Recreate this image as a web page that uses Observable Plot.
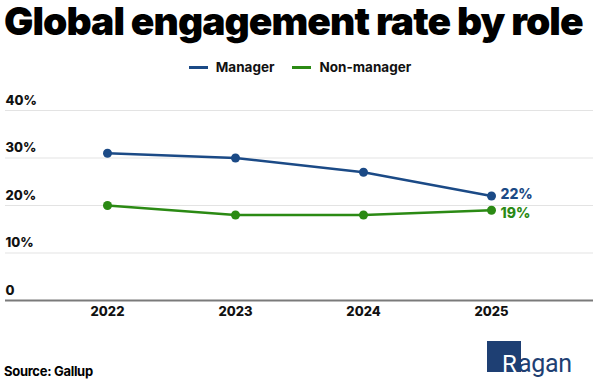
<!DOCTYPE html>
<html>
<head>
<meta charset="utf-8">
<script src="https://cdn.jsdelivr.net/npm/d3@7"></script>
<script src="https://cdn.jsdelivr.net/npm/@observablehq/plot@0.6"></script>
<style>
  html, body { margin: 0; padding: 0; background: #fff; }
  body { width: 600px; height: 388px; position: relative; overflow: hidden; font-family: Inter, "Liberation Sans", sans-serif; }
  #title { position: absolute; left: 4px; top: 0px; font-size: 39px; line-height: 42px; padding-top: 0; font-weight: 900; letter-spacing: -0.95px; color: #000; white-space: nowrap; }
  #legend { position: absolute; top: 59px; left: 0; width: 600px; display: flex; justify-content: center; gap: 18px; font-size: 13.5px; font-weight: 700; color: #111; }
  #legend span.item { display: flex; align-items: center; gap: 8px; }
  #legend span.sw { display: inline-block; width: 19px; height: 3px; }
  #chart { position: absolute; left: 0; top: 85px; }
  #source { position: absolute; left: 4px; top: 363px; font-size: 13px; font-weight: 700; color: #000; letter-spacing: -0.3px; }
  #logo { position: absolute; left: 487px; top: 340px; width: 112px; height: 44px; overflow: visible; }
</style>
</head>
<body>
<div id="title">Global engagement rate by role</div>
<div id="legend"></div>
<div id="chart"></div>
<div id="source">Source: Gallup</div>
<svg id="logo" width="112" height="44" viewBox="0 0 112 44">
  <rect x="0" y="1" width="34" height="31" fill="#1e3f73"></rect>
  <text x="15" y="32" font-family="Roboto, 'Liberation Sans', sans-serif" font-size="24" fill="#ffffff" font-weight="400">R</text>
  <text x="31" y="32" font-family="Roboto, 'Liberation Sans', sans-serif" font-size="25" fill="#1e3f73" font-weight="400" letter-spacing="-0.3">agan</text>
</svg>
<script>
const years = ["2022", "2023", "2024", "2025"];
const managerValues = [31, 30, 27, 22];
const nonManagerValues = [20, 18, 18, 19];
const seriesNames = ["Manager", "Non-manager"];
const seriesColors = ["#1b4a86", "#2b8a14"];
const yTicks = [0, 10, 20, 30, 40];
const yTickLabels = ["0", "10%", "20%", "30%", "40%"];

const data = [];
years.forEach((y, i) => data.push({year: y, value: managerValues[i], series: seriesNames[0]}));
years.forEach((y, i) => data.push({year: y, value: nonManagerValues[i], series: seriesNames[1]}));
const lastManager = data.filter(d => d.year === years[years.length - 1] && d.series === seriesNames[0]);
const lastNon = data.filter(d => d.year === years[years.length - 1] && d.series === seriesNames[1]);

// legend
const legend = document.getElementById("legend");
seriesNames.forEach((n, i) => {
  const it = document.createElement("span");
  it.className = "item";
  it.innerHTML = `<span class="sw" style="background:${seriesColors[i]}"></span><span>${n}</span>`;
  legend.appendChild(it);
});

const chart = Plot.plot({
  width: 600,
  height: 245,
  marginTop: 25,
  marginBottom: 30,
  marginLeft: 5,
  marginRight: 7,
  style: {fontFamily: "Inter, 'Liberation Sans', sans-serif", background: "#fff"},
  x: {type: "point", domain: years, padding: 0.785, axis: null},
  y: {domain: [0, 40], axis: null},
  color: {domain: seriesNames, range: seriesColors},
  marks: [
    Plot.ruleY(yTicks.filter(t => t > 0), {stroke: "#e3e3e3", strokeWidth: 1.2}),
    Plot.text(yTicks, {y: d => d, text: (d, i) => yTickLabels[i], frameAnchor: "left", textAnchor: "start", dy: -10, fontSize: 13, fontWeight: 800, fill: "#111"}),
    Plot.ruleY([0], {stroke: "#7a7a7a", strokeWidth: 2}),
    Plot.text(years, {x: d => d, text: d => d, frameAnchor: "bottom", dy: 15, fontSize: 13, fontWeight: 800, fill: "#111"}),
    Plot.line(data, {x: "year", y: "value", stroke: "series", z: "series", strokeWidth: 2.5}),
    Plot.dot(data, {x: "year", y: "value", fill: "series", r: 4.5}),
    Plot.text(lastManager, {x: "year", y: "value", text: d => d.value + "%", fill: "series", textAnchor: "start", dx: 9, dy: -1, fontSize: 14, fontWeight: 800}),
    Plot.text(lastNon, {x: "year", y: "value", text: d => d.value + "%", fill: "series", textAnchor: "start", dx: 9, dy: 3, fontSize: 14, fontWeight: 800})
  ]
});
document.getElementById("chart").appendChild(chart);
</script>
</body>
</html>
